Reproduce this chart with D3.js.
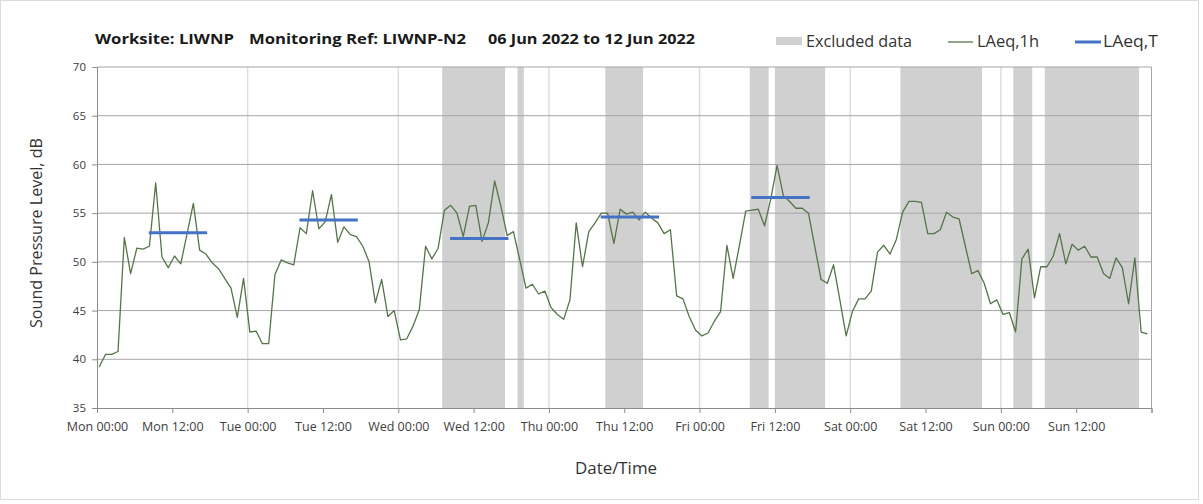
<!DOCTYPE html>
<html>
<head>
<meta charset="utf-8">
<script src="https://cdn.jsdelivr.net/npm/d3@7"></script>
<style>
  html, body { margin: 0; padding: 0; background: #fff; }
  svg { display: block; font-family: "Open Sans", "Noto Sans", sans-serif; }
</style>
</head>
<body>
<svg id="chart" width="1203" height="504"></svg>
<script>
// ---------- data ----------
const startDate = new Date(2022, 5, 6, 0, 0);   // Mon 06 Jun 2022 00:00
const endDate = new Date(2022, 5, 13, 0, 0);    // Mon 13 Jun 2022 00:00

// Hourly LAeq,1h values (dB), Mon 00:00 ... Sun 23:00
const laeqMon = [39.2, 40.5, 40.5, 40.8, 52.5, 48.8, 51.4, 51.3, 51.6, 58.1, 50.5, 49.4, 50.6, 49.8, 52.9, 56.0, 51.2, 50.8, 49.9, 49.3, 48.3, 47.3, 44.3, 48.3];
const laeqTue = [42.8, 42.9, 41.6, 41.6, 48.7, 50.2, 49.9, 49.7, 53.5, 52.9, 57.3, 53.4, 54.1, 56.9, 52.0, 53.6, 52.8, 52.6, 51.6, 50.0, 45.8, 48.2, 44.4, 45.0];
const laeqWed = [42.0, 42.1, 43.4, 45.1, 51.6, 50.3, 51.4, 55.3, 55.8, 55.0, 52.6, 55.7, 55.8, 52.1, 54.0, 58.3, 55.7, 52.7, 53.1, 50.2, 47.3, 47.7, 46.7, 47.0];
const laeqThu = [45.3, 44.6, 44.1, 46.1, 54.0, 49.5, 53.1, 54.0, 55.0, 55.0, 51.9, 55.4, 54.9, 55.1, 54.3, 55.1, 54.5, 54.0, 52.9, 53.3, 46.5, 46.2, 44.4, 43.0];
const laeqFri = [42.4, 42.7, 43.9, 44.9, 51.7, 48.3, 51.7, 55.2, 55.3, 55.4, 53.7, 56.5, 59.9, 56.8, 56.2, 55.5, 55.5, 55.0, 51.6, 48.2, 47.8, 49.7, 46.1, 42.4];
const laeqSat = [44.9, 46.2, 46.2, 47.0, 51.0, 51.7, 50.8, 52.3, 55.1, 56.2, 56.2, 56.1, 52.9, 52.9, 53.3, 55.1, 54.6, 54.4, 51.6, 48.8, 49.1, 47.8, 45.7, 46.1];
const laeqSun = [44.6, 44.8, 42.8, 50.3, 51.3, 46.3, 49.5, 49.5, 50.6, 52.9, 49.8, 51.8, 51.2, 51.6, 50.5, 50.5, 48.8, 48.3, 50.4, 49.4, 45.7, 50.4, 42.8, 42.6];
const pointOffsetHours = 0.35;

// Excluded data periods (hours from Mon 00:00)
const excludedFrom = [55, 67, 81, 104, 108, 128, 146, 151];
const excludedTo   = [65, 68, 87, 107, 116, 141, 149, 166];

// LAeq,T (daytime period) per day
const laeqTDay   = [0, 1, 2, 3, 4];
const laeqTValue = [53.0, 54.3, 52.4, 54.6, 56.6];
const laeqTFromHour = 8.25;
const laeqTToHour = 17.55;

const yTicks = [35, 40, 45, 50, 55, 60, 65, 70];
const titleParts = ["Worksite: LIWNP", "Monitoring Ref: LIWNP-N2", "06 Jun 2022 to 12 Jun 2022"];
const legendLabels = ["Excluded data", "LAeq,1h", "LAeq,T"];

// ---------- layout ----------
const plot = { left: 97, right: 1151.5, top: 67, bottom: 408 };
const hour = h => new Date(startDate.getTime() + h * 3600 * 1000);

const svg = d3.select("#chart");
const x = d3.scaleTime().domain([startDate, endDate]).range([plot.left, plot.right]);
const y = d3.scaleLinear().domain([35, 70]).range([plot.bottom, plot.top]);

// outer frame
svg.append("rect").attr("x", 0.5).attr("y", 0.5).attr("width", 1198).attr("height", 499)
  .attr("fill", "#fff").attr("stroke", "#dcdcdc");

// excluded shading
svg.append("g").selectAll("rect").data(excludedFrom.map((f, i) => [f, excludedTo[i]]))
  .join("rect")
  .attr("x", d => x(hour(d[0])))
  .attr("width", d => x(hour(d[1])) - x(hour(d[0])))
  .attr("y", plot.top).attr("height", plot.bottom - plot.top)
  .attr("fill", "#d0d0d0");

// vertical day gridlines
const dayTicks = d3.timeDay.range(d3.timeDay.offset(startDate, 1), endDate);
svg.append("g").selectAll("line").data(dayTicks).join("line")
  .attr("x1", d => x(d)).attr("x2", d => x(d))
  .attr("y1", plot.top).attr("y2", plot.bottom)
  .attr("stroke", "#dedede").attr("stroke-width", 1.5);

// horizontal gridlines
svg.append("g").selectAll("line").data(yTicks.filter(v => v > 35)).join("line")
  .attr("x1", plot.left).attr("x2", plot.right)
  .attr("y1", d => y(d)).attr("y2", d => y(d))
  .attr("stroke", "#a6a6a6").attr("stroke-width", 1);

// right border
svg.append("line").attr("x1", plot.right).attr("x2", plot.right)
  .attr("y1", plot.top).attr("y2", plot.bottom).attr("stroke", "#a6a6a6");

// y axis
const yAxis = d3.axisLeft(y).tickValues(yTicks).tickSize(5).tickPadding(6).tickFormat(d3.format("d"));
const gy = svg.append("g").attr("transform", `translate(${plot.left},0)`).call(yAxis);
gy.select(".domain").attr("stroke", "#8c8c8c");
gy.selectAll(".tick line").attr("stroke", "#8c8c8c");
gy.selectAll("text").attr("font-size", 11.5).attr("fill", "#404040").attr("font-family", "Open Sans");

// x axis
const xTicks = d3.timeHour.every(12).range(startDate, d3.timeHour.offset(endDate, 1));
const xAxis = d3.axisBottom(x).tickValues(xTicks).tickSize(5).tickPadding(9)
  .tickFormat((d, i) => i === xTicks.length - 1 ? "" : d3.timeFormat("%a %H:%M")(d));
const gx = svg.append("g").attr("transform", `translate(0,${plot.bottom})`).call(xAxis);
gx.select(".domain").attr("stroke", "#8c8c8c");
gx.selectAll(".tick line").attr("stroke", "#8c8c8c");
gx.selectAll("text").attr("font-size", 12.5).attr("fill", "#404040").attr("font-family", "Open Sans");

// LAeq,1h line
const laeq1h = [].concat(laeqMon, laeqTue, laeqWed, laeqThu, laeqFri, laeqSat, laeqSun);
const line = d3.line().x((d, i) => x(hour(i + pointOffsetHours))).y(d => y(d));
svg.append("path").datum(laeq1h).attr("d", line)
  .attr("fill", "none").attr("stroke", "#56744a").attr("stroke-width", 1.3)
  .attr("stroke-linejoin", "round");

// LAeq,T segments
svg.append("g").selectAll("line").data(laeqTDay.map((d, i) => [d, laeqTValue[i]])).join("line")
  .attr("x1", d => x(hour(d[0] * 24 + laeqTFromHour)))
  .attr("x2", d => x(hour(d[0] * 24 + laeqTToHour)))
  .attr("y1", d => y(d[1])).attr("y2", d => y(d[1]))
  .attr("stroke", "#4472c4").attr("stroke-width", 3);

// title
const titleX = [95, 249, 488];
const titleW = [139, 217, 207];
svg.append("g").selectAll("text").data(titleParts).join("text")
  .attr("x", (d, i) => titleX[i]).attr("y", 44)
  .attr("font-size", 15).attr("font-weight", "bold").attr("fill", "#1a1a1a")
  .attr("textLength", (d, i) => titleW[i]).attr("lengthAdjust", "spacingAndGlyphs")
  .text(d => d);

// legend
const lg = svg.append("g");
lg.append("rect").attr("x", 776).attr("y", 37).attr("width", 26).attr("height", 8).attr("fill", "#d0d0d0");
lg.append("line").attr("x1", 948).attr("x2", 973).attr("y1", 42).attr("y2", 42)
  .attr("stroke", "#56744a").attr("stroke-width", 1.3);
lg.append("line").attr("x1", 1075).attr("x2", 1101).attr("y1", 42).attr("y2", 42)
  .attr("stroke", "#4472c4").attr("stroke-width", 3);
const legX = [806, 977, 1103];
const legW = [106, 62, 55];
lg.selectAll("text").data(legendLabels).join("text")
  .attr("x", (d, i) => legX[i]).attr("y", 47)
  .attr("font-size", 15.5).attr("fill", "#333")
  .attr("textLength", (d, i) => legW[i]).attr("lengthAdjust", "spacingAndGlyphs")
  .text(d => d);

// axis titles
svg.append("text").attr("transform", "translate(42,233) rotate(-90)")
  .attr("text-anchor", "middle").attr("font-size", 16).attr("fill", "#333")
  .attr("textLength", 190).attr("lengthAdjust", "spacingAndGlyphs")
  .text("Sound Pressure Level, dB");
svg.append("text").attr("x", 616).attr("y", 474)
  .attr("text-anchor", "middle").attr("font-size", 16).attr("fill", "#333")
  .attr("textLength", 82).attr("lengthAdjust", "spacingAndGlyphs")
  .text("Date/Time");
</script>
</body>
</html>
